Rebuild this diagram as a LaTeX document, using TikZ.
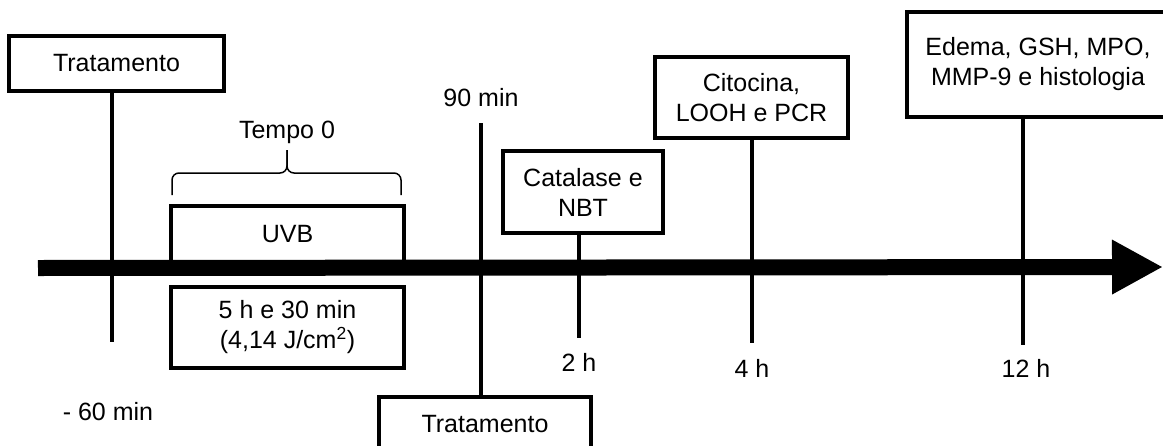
\documentclass[tikz,border=0pt]{standalone}
\usepackage{fontspec}
\setmainfont{Liberation Sans}
\usetikzlibrary{arrows.meta}
\begin{document}
\begin{tikzpicture}[x=1pt,y=-1pt,
  every node/.style={font=\fontsize{25}{30}\selectfont, inner sep=0pt},
  box/.style={draw, line width=3.8pt, align=center},
  tick/.style={line width=3.6pt},
  lbl/.style={}]
\clip (0,0) rectangle (1163,445);
\fill[white] (0,0) rectangle (1163,445);
% main arrow
\coordinate (a0) at (38,268);
\coordinate (a1) at (1163,267);
\draw[line width=16pt, -{Triangle[length=51pt,width=51pt]}] (a0) -- (a1);
% boxes
\node[box, minimum width=215pt, minimum height=55pt] (t1) at (116.5,63.5) {Tratamento};
\node[box, minimum width=233pt, minimum height=81pt] (dose) at (287.5,327.5) {5 h e 30 min\\(4,14 J/cm\textsuperscript{2})};
\node[box, minimum width=160pt, minimum height=82pt] (cat) at (583,192) {Catalase e\\NBT};
\node[box, minimum width=193pt, minimum height=81pt] (cit) at (751.5,97.5) {Citocina,\\LOOH e PCR};
\node[box, minimum width=262pt, minimum height=105pt] (ede) at (1038,64.5) {Edema, GSH, MPO,\\MMP-9 e histologia};
\node[box, minimum width=212pt, minimum height=60pt] (t2) at (485,427) {\raisebox{7pt}{Tratamento}};
% UVB open box
\node[minimum width=233pt, minimum height=56pt] (uvb) at (287.5,234) {UVB};
\draw[line width=3.8pt] (uvb.south west) -- (uvb.north west) -- (uvb.north east) -- (uvb.south east);
% brace
\node (tempo) at (287,132) {Tempo 0};
\coordinate (bl) at (172,195);
\coordinate (br) at (401,195);
\coordinate (bt) at (287,150);
\draw[line width=1.5pt, rounded corners=7pt] (bl) |- (287,173) -- (bt);
\draw[line width=1.5pt, rounded corners=7pt] (br) |- (287,173) -- (bt);
% ticks
\coordinate (e1) at (112,342);
\draw[tick] (t1.south -| e1) -- (e1);
\node (l60) at (108,412) {- 60 min};
\node (l90) at (481,98) {90 min};
\coordinate (s90) at (481,123);
\draw[tick] (s90) -- (s90 |- t2.north);
\coordinate (e2) at (579,338);
\draw[tick] (cat.south -| e2) -- (e2);
\node (l2) at (579,362) {2 h};
\coordinate (e4) at (752,343);
\draw[tick] (cit.south -| e4) -- (e4);
\node (l4) at (752,368) {4 h};
\coordinate (e12) at (1023,345);
\draw[tick] (ede.south -| e12) -- (e12);
\node (l12) at (1026,368) {12 h};
\end{tikzpicture}
\end{document}
